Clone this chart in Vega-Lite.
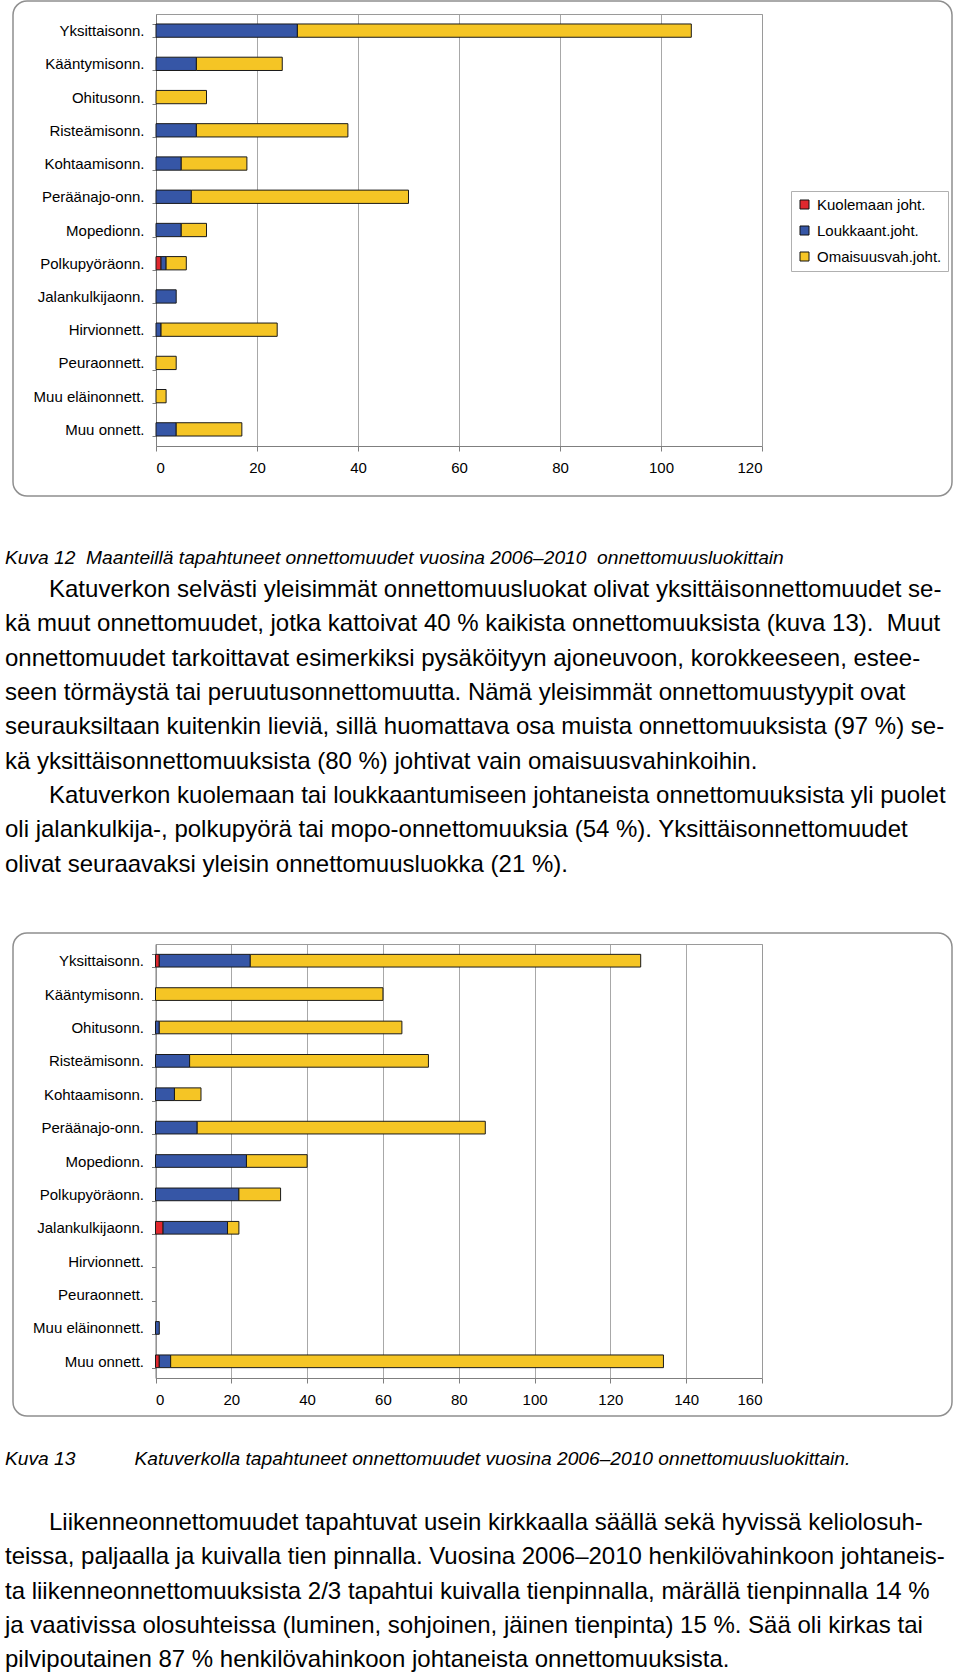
{
  "$schema": "https://vega.github.io/schema/vega-lite/v6.json",
  "background": "white",
  "padding": {"left": 4, "top": -7, "right": 0, "bottom": 0},
  "autosize": {"type": "pad"},
  "bounds": "flush",
  "spacing": 437,
  "datasets": {
    "maantiet": [
      {"cat": "Yksittaisonn.", "series": "Loukkaant.joht.", "value": 28},
      {"cat": "Yksittaisonn.", "series": "Omaisuusvah.joht.", "value": 78},
      {"cat": "Kääntymisonn.", "series": "Loukkaant.joht.", "value": 8},
      {"cat": "Kääntymisonn.", "series": "Omaisuusvah.joht.", "value": 17},
      {"cat": "Ohitusonn.", "series": "Omaisuusvah.joht.", "value": 10},
      {"cat": "Risteämisonn.", "series": "Loukkaant.joht.", "value": 8},
      {"cat": "Risteämisonn.", "series": "Omaisuusvah.joht.", "value": 30},
      {"cat": "Kohtaamisonn.", "series": "Loukkaant.joht.", "value": 5},
      {"cat": "Kohtaamisonn.", "series": "Omaisuusvah.joht.", "value": 13},
      {"cat": "Peräänajo-onn.", "series": "Loukkaant.joht.", "value": 7},
      {"cat": "Peräänajo-onn.", "series": "Omaisuusvah.joht.", "value": 43},
      {"cat": "Mopedionn.", "series": "Loukkaant.joht.", "value": 5},
      {"cat": "Mopedionn.", "series": "Omaisuusvah.joht.", "value": 5},
      {"cat": "Polkupyöräonn.", "series": "Kuolemaan joht.", "value": 1},
      {"cat": "Polkupyöräonn.", "series": "Loukkaant.joht.", "value": 1},
      {"cat": "Polkupyöräonn.", "series": "Omaisuusvah.joht.", "value": 4},
      {"cat": "Jalankulkijaonn.", "series": "Loukkaant.joht.", "value": 4},
      {"cat": "Hirvionnett.", "series": "Loukkaant.joht.", "value": 1},
      {"cat": "Hirvionnett.", "series": "Omaisuusvah.joht.", "value": 23},
      {"cat": "Peuraonnett.", "series": "Omaisuusvah.joht.", "value": 4},
      {"cat": "Muu eläinonnett.", "series": "Omaisuusvah.joht.", "value": 2},
      {"cat": "Muu onnett.", "series": "Loukkaant.joht.", "value": 4},
      {"cat": "Muu onnett.", "series": "Omaisuusvah.joht.", "value": 13}
    ],
    "katuverkko": [
      {"cat": "Yksittaisonn.", "series": "Kuolemaan joht.", "value": 1},
      {"cat": "Yksittaisonn.", "series": "Loukkaant.joht.", "value": 24},
      {"cat": "Yksittaisonn.", "series": "Omaisuusvah.joht.", "value": 103},
      {"cat": "Kääntymisonn.", "series": "Omaisuusvah.joht.", "value": 60},
      {"cat": "Ohitusonn.", "series": "Loukkaant.joht.", "value": 1},
      {"cat": "Ohitusonn.", "series": "Omaisuusvah.joht.", "value": 64},
      {"cat": "Risteämisonn.", "series": "Loukkaant.joht.", "value": 9},
      {"cat": "Risteämisonn.", "series": "Omaisuusvah.joht.", "value": 63},
      {"cat": "Kohtaamisonn.", "series": "Loukkaant.joht.", "value": 5},
      {"cat": "Kohtaamisonn.", "series": "Omaisuusvah.joht.", "value": 7},
      {"cat": "Peräänajo-onn.", "series": "Loukkaant.joht.", "value": 11},
      {"cat": "Peräänajo-onn.", "series": "Omaisuusvah.joht.", "value": 76},
      {"cat": "Mopedionn.", "series": "Loukkaant.joht.", "value": 24},
      {"cat": "Mopedionn.", "series": "Omaisuusvah.joht.", "value": 16},
      {"cat": "Polkupyöräonn.", "series": "Loukkaant.joht.", "value": 22},
      {"cat": "Polkupyöräonn.", "series": "Omaisuusvah.joht.", "value": 11},
      {"cat": "Jalankulkijaonn.", "series": "Kuolemaan joht.", "value": 2},
      {"cat": "Jalankulkijaonn.", "series": "Loukkaant.joht.", "value": 17},
      {"cat": "Jalankulkijaonn.", "series": "Omaisuusvah.joht.", "value": 3},
      {"cat": "Muu eläinonnett.", "series": "Loukkaant.joht.", "value": 1},
      {"cat": "Muu onnett.", "series": "Kuolemaan joht.", "value": 1},
      {"cat": "Muu onnett.", "series": "Loukkaant.joht.", "value": 3},
      {"cat": "Muu onnett.", "series": "Omaisuusvah.joht.", "value": 130}
    ]
  },
  "config": {
    "font": "Liberation Sans, Arial, sans-serif",
    "axis": {
      "labelFont": "Liberation Sans, Arial, sans-serif",
      "labelFontSize": 15,
      "labelColor": "#000000",
      "domainColor": "#7f7f7f",
      "tickColor": "#7f7f7f",
      "gridColor": "#a8a8a8",
      "gridWidth": 1,
      "title": null
    },
    "legend": {
      "orient": "none",
      "legendX": 778,
      "legendY": 190,
      "title": null,
      "symbolType": "square",
      "symbolSize": 81,
      "symbolStrokeColor": "#111111",
      "symbolStrokeWidth": 1,
      "labelFont": "Liberation Sans, Arial, sans-serif",
      "labelFontSize": 15,
      "labelColor": "#000000",
      "labelOffset": 5,
      "labelLimit": 300,
      "rowPadding": 10,
      "padding": 6,
      "strokeColor": "#b0b0b0",
      "fillColor": "#ffffff"
    },
    "title": {
      "orient": "bottom",
      "anchor": "start",
      "frame": "group",
      "dx": -8,
      "font": "Liberation Sans, Arial, sans-serif",
      "fontSize": 19.2,
      "fontStyle": "italic",
      "fontWeight": "normal",
      "color": "#000000",
      "subtitleFont": "Liberation Sans, Arial, sans-serif",
      "subtitleFontSize": 24,
      "subtitleFontStyle": "normal",
      "subtitleLineHeight": 34.3,
      "subtitleColor": "#000000"
    }
  },
  "vconcat": [
    {
      "width": 939,
      "height": 495,
      "view": {"stroke": "#8f8f8f", "strokeWidth": 1.5, "cornerRadius": 14, "fill": "white"},
      "title": {
        "text": "Kuva 12 \u00a0Maanteillä tapahtuneet onnettomuudet vuosina 2006–2010 \u00a0onnettomuusluokittain",
        "subtitle": [
          "\u200b\u2003\u2002\u2004Katuverkon selvästi yleisimmät onnettomuusluokat olivat yksittäisonnettomuudet se-",
          "kä muut onnettomuudet, jotka kattoivat 40 % kaikista onnettomuuksista (kuva 13). \u00a0Muut",
          "onnettomuudet tarkoittavat esimerkiksi pysäköityyn ajoneuvoon, korokkeeseen, estee-",
          "seen törmäystä tai peruutusonnettomuutta. Nämä yleisimmät onnettomuustyypit ovat",
          "seurauksiltaan kuitenkin lieviä, sillä huomattava osa muista onnettomuuksista (97 %) se-",
          "kä yksittäisonnettomuuksista (80 %) johtivat vain omaisuusvahinkoihin.",
          "\u200b\u2003\u2002\u2004Katuverkon kuolemaan tai loukkaantumiseen johtaneista onnettomuuksista yli puolet",
          "oli jalankulkija-, polkupyörä tai mopo-onnettomuuksia (54 %). Yksittäisonnettomuudet",
          "olivat seuraavaksi yleisin onnettomuusluokka (21 %)."
        ],
        "offset": 53,
        "subtitlePadding": 10
      },
      "data": {"name": "maantiet"},
      "resolve": {"axis": {"x": "independent", "y": "independent"}},
      "layer": [
        {
          "mark": {"type": "bar", "stroke": "#1a1a1a", "strokeWidth": 1},
          "encoding": {
            "x": {
              "field": "value", "type": "quantitative", "stack": "zero",
              "scale": {"domain": [0, 120], "range": [143, 749], "nice": false},
              "axis": {"orient": "bottom", "offset": -50, "values": [0, 20, 40, 60, 80, 100, 120], "grid": false, "tickSize": 5, "labelPadding": 9}
            },
            "y": {
              "field": "cat", "type": "nominal",
              "scale": {"domain": ["Yksittaisonn.", "Kääntymisonn.", "Ohitusonn.", "Risteämisonn.", "Kohtaamisonn.", "Peräänajo-onn.", "Mopedionn.", "Polkupyöräonn.", "Jalankulkijaonn.", "Hirvionnett.", "Peuraonnett.", "Muu eläinonnett.", "Muu onnett."], "range": [13, 445], "paddingInner": 0.6, "paddingOuter": 0.3},
              "axis": {"orient": "left", "offset": -143, "tickBand": "extent", "tickSize": 4, "labelPadding": 8, "grid": false}
            },
            "color": {
              "field": "series", "type": "nominal",
              "sort": ["Kuolemaan joht.", "Loukkaant.joht.", "Omaisuusvah.joht."],
              "scale": {"domain": ["Kuolemaan joht.", "Loukkaant.joht.", "Omaisuusvah.joht."], "range": ["#e0282e", "#3656a6", "#f5c525"]},
              "legend": {}
            },
            "order": {"field": "series", "sort": "ascending"}
          }
        },
        {
          "mark": {"type": "bar", "opacity": 0},
          "encoding": {
            "x": {
              "field": "value", "type": "quantitative", "stack": "zero",
              "scale": {"domain": [0, 120], "range": [143, 749], "nice": false},
              "axis": {"orient": "top", "offset": -13, "values": [0, 20, 40, 60, 80, 100, 120], "labels": false, "ticks": false, "grid": true, "minExtent": 0, "maxExtent": 0, "domainColor": "#9a9a9a"}
            },
            "y": {
              "field": "cat", "type": "nominal",
              "axis": {"orient": "right", "offset": -190, "labels": false, "ticks": false, "grid": false, "minExtent": 0, "maxExtent": 0, "domainColor": "#9a9a9a"}
            }
          }
        }
      ]
    },
    {
      "width": 939,
      "height": 483,
      "view": {"stroke": "#8f8f8f", "strokeWidth": 1.5, "cornerRadius": 14, "fill": "white"},
      "title": {
        "text": "Kuva 13\u2003\u2003\u2003\u200aKatuverkolla tapahtuneet onnettomuudet vuosina 2006–2010 onnettomuusluokittain.",
        "subtitle": [
          "\u200b\u2003\u2002\u2004Liikenneonnettomuudet tapahtuvat usein kirkkaalla säällä sekä hyvissä keliolosuh-",
          "teissa, paljaalla ja kuivalla tien pinnalla. Vuosina 2006–2010 henkilövahinkoon johtaneis-",
          "ta liikenneonnettomuuksista 2/3 tapahtui kuivalla tienpinnalla, märällä tienpinnalla 14 %",
          "ja vaativissa olosuhteissa (luminen, sohjoinen, jäinen tienpinta) 15 %. Sää oli kirkas tai",
          "pilvipoutainen 87 % henkilövahinkoon johtaneista onnettomuuksista."
        ],
        "offset": 34,
        "subtitlePadding": 42
      },
      "data": {"name": "katuverkko"},
      "resolve": {"axis": {"x": "independent", "y": "independent"}},
      "layer": [
        {
          "mark": {"type": "bar", "stroke": "#1a1a1a", "strokeWidth": 1},
          "encoding": {
            "x": {
              "field": "value", "type": "quantitative", "stack": "zero",
              "scale": {"domain": [0, 160], "range": [142.5, 749], "nice": false},
              "axis": {"orient": "bottom", "offset": -38, "values": [0, 20, 40, 60, 80, 100, 120, 140, 160], "grid": false, "tickSize": 5, "labelPadding": 9}
            },
            "y": {
              "field": "cat", "type": "nominal",
              "scale": {"domain": ["Yksittaisonn.", "Kääntymisonn.", "Ohitusonn.", "Risteämisonn.", "Kohtaamisonn.", "Peräänajo-onn.", "Mopedionn.", "Polkupyöräonn.", "Jalankulkijaonn.", "Hirvionnett.", "Peuraonnett.", "Muu eläinonnett.", "Muu onnett."], "range": [11, 445], "paddingInner": 0.62, "paddingOuter": 0.31},
              "axis": {"orient": "left", "offset": -142.5, "tickBand": "extent", "tickSize": 4, "labelPadding": 8, "grid": false}
            },
            "color": {
              "field": "series", "type": "nominal",
              "sort": ["Kuolemaan joht.", "Loukkaant.joht.", "Omaisuusvah.joht."],
              "scale": {"domain": ["Kuolemaan joht.", "Loukkaant.joht.", "Omaisuusvah.joht."], "range": ["#e0282e", "#3656a6", "#f5c525"]},
              "legend": {}
            },
            "order": {"field": "series", "sort": "ascending"}
          }
        },
        {
          "mark": {"type": "bar", "opacity": 0},
          "encoding": {
            "x": {
              "field": "value", "type": "quantitative", "stack": "zero",
              "scale": {"domain": [0, 160], "range": [142.5, 749], "nice": false},
              "axis": {"orient": "top", "offset": -11, "values": [0, 20, 40, 60, 80, 100, 120, 140, 160], "labels": false, "ticks": false, "grid": true, "minExtent": 0, "maxExtent": 0, "domainColor": "#9a9a9a"}
            },
            "y": {
              "field": "cat", "type": "nominal",
              "axis": {"orient": "right", "offset": -190, "labels": false, "ticks": false, "grid": false, "minExtent": 0, "maxExtent": 0, "domainColor": "#9a9a9a"}
            }
          }
        }
      ]
    }
  ]
}
